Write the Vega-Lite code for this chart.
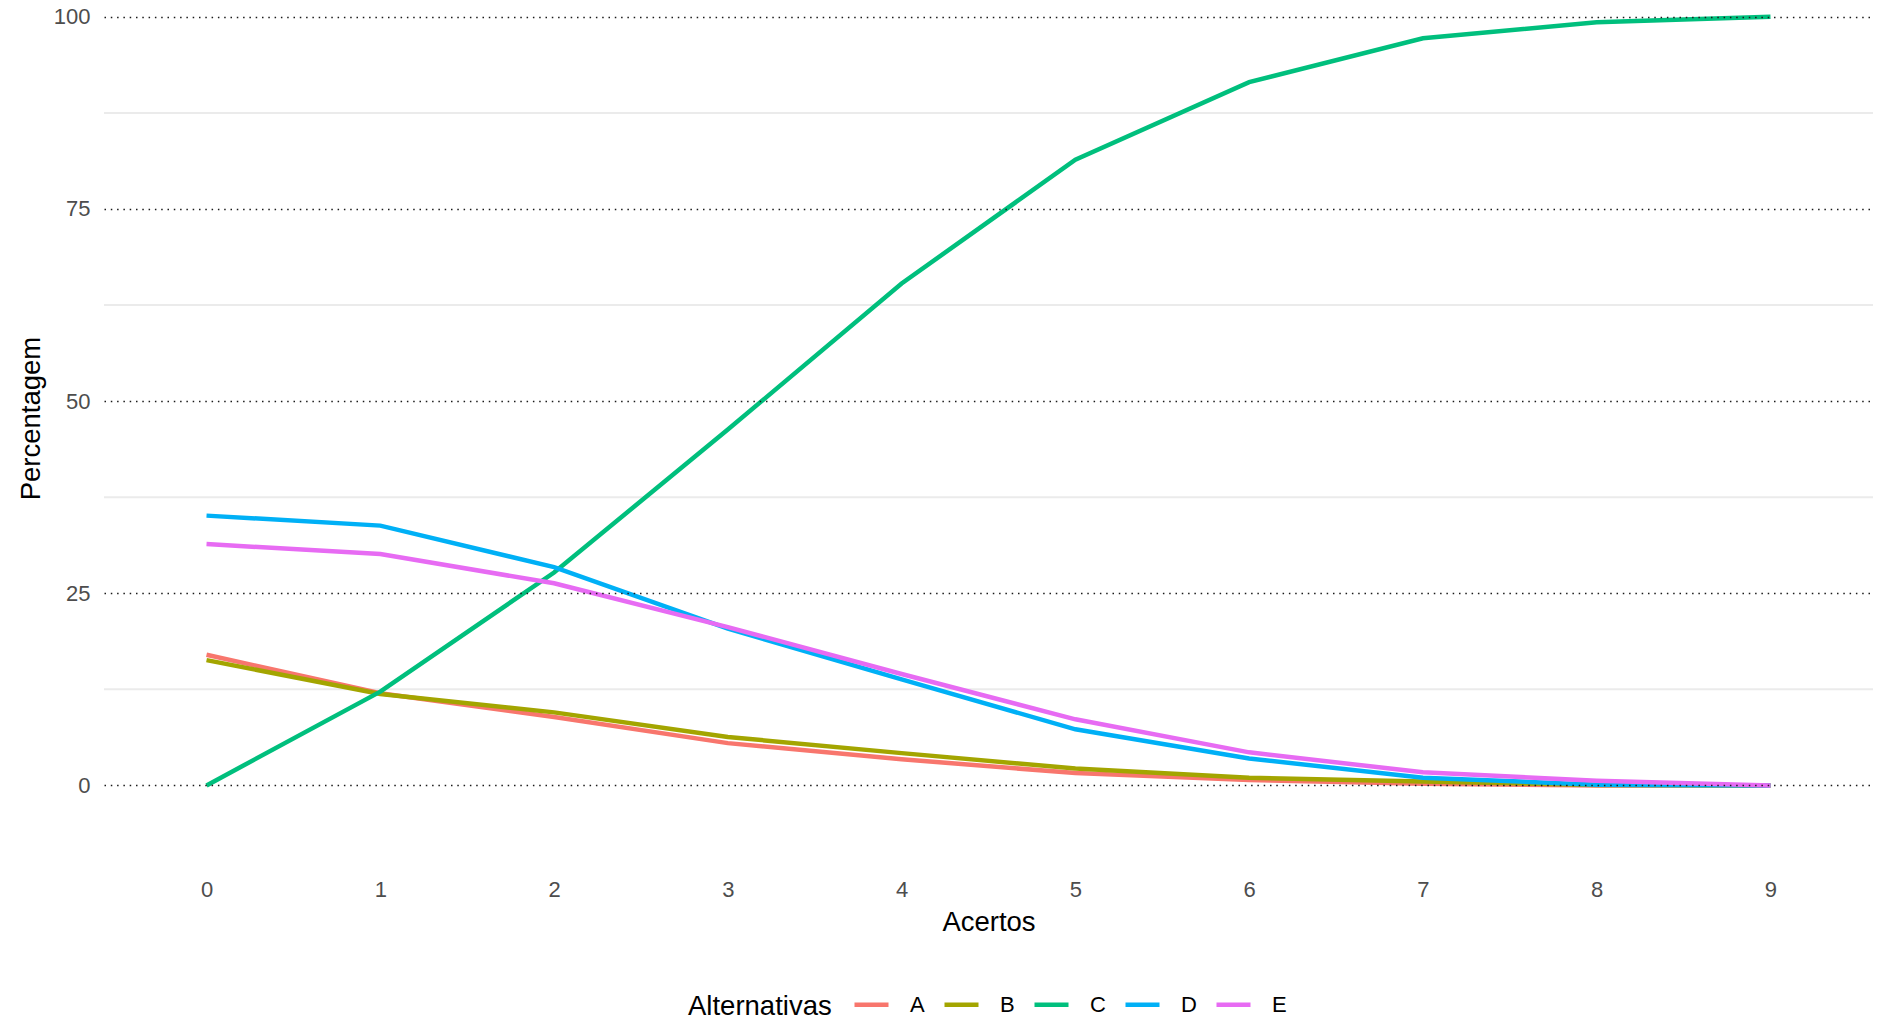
{
  "$schema": "https://vega.github.io/schema/vega-lite/v6.json",
  "width": 1769,
  "height": 836,
  "autosize": {"type": "none"},
  "padding": {"left": 104, "top": 0, "right": 10, "bottom": 186},
  "background": "white",
  "config": {"font": "Liberation Sans", "view": {"stroke": null}},
  "datasets": {
    "pct": [
      {"acertos": 0, "alt": "A", "pct": 17.0}, {"acertos": 1, "alt": "A", "pct": 12.0}, {"acertos": 2, "alt": "A", "pct": 8.9}, {"acertos": 3, "alt": "A", "pct": 5.5}, {"acertos": 4, "alt": "A", "pct": 3.4}, {"acertos": 5, "alt": "A", "pct": 1.6}, {"acertos": 6, "alt": "A", "pct": 0.7}, {"acertos": 7, "alt": "A", "pct": 0.2}, {"acertos": 8, "alt": "A", "pct": 0.0}, {"acertos": 9, "alt": "A", "pct": 0.0},
      {"acertos": 0, "alt": "B", "pct": 16.3}, {"acertos": 1, "alt": "B", "pct": 11.9}, {"acertos": 2, "alt": "B", "pct": 9.5}, {"acertos": 3, "alt": "B", "pct": 6.3}, {"acertos": 4, "alt": "B", "pct": 4.2}, {"acertos": 5, "alt": "B", "pct": 2.2}, {"acertos": 6, "alt": "B", "pct": 1.0}, {"acertos": 7, "alt": "B", "pct": 0.5}, {"acertos": 8, "alt": "B", "pct": 0.05}, {"acertos": 9, "alt": "B", "pct": 0.0},
      {"acertos": 0, "alt": "C", "pct": 0.0}, {"acertos": 1, "alt": "C", "pct": 12.2}, {"acertos": 2, "alt": "C", "pct": 27.7}, {"acertos": 3, "alt": "C", "pct": 46.3}, {"acertos": 4, "alt": "C", "pct": 65.3}, {"acertos": 5, "alt": "C", "pct": 81.4}, {"acertos": 6, "alt": "C", "pct": 91.5}, {"acertos": 7, "alt": "C", "pct": 97.2}, {"acertos": 8, "alt": "C", "pct": 99.3}, {"acertos": 9, "alt": "C", "pct": 100.0},
      {"acertos": 0, "alt": "D", "pct": 35.1}, {"acertos": 1, "alt": "D", "pct": 33.8}, {"acertos": 2, "alt": "D", "pct": 28.4}, {"acertos": 3, "alt": "D", "pct": 20.4}, {"acertos": 4, "alt": "D", "pct": 13.8}, {"acertos": 5, "alt": "D", "pct": 7.3}, {"acertos": 6, "alt": "D", "pct": 3.5}, {"acertos": 7, "alt": "D", "pct": 1.0}, {"acertos": 8, "alt": "D", "pct": 0.1}, {"acertos": 9, "alt": "D", "pct": 0.0},
      {"acertos": 0, "alt": "E", "pct": 31.4}, {"acertos": 1, "alt": "E", "pct": 30.1}, {"acertos": 2, "alt": "E", "pct": 26.3}, {"acertos": 3, "alt": "E", "pct": 20.6}, {"acertos": 4, "alt": "E", "pct": 14.5}, {"acertos": 5, "alt": "E", "pct": 8.6}, {"acertos": 6, "alt": "E", "pct": 4.3}, {"acertos": 7, "alt": "E", "pct": 1.7}, {"acertos": 8, "alt": "E", "pct": 0.6}, {"acertos": 9, "alt": "E", "pct": 0.0}
    ],
    "minor": [{"g": 12.5}, {"g": 37.5}, {"g": 62.5}, {"g": 87.5}]
  },
  "layer": [
    {
      "data": {"name": "minor"},
      "mark": {"type": "rule", "color": "#EBEBEB", "strokeWidth": 2},
      "encoding": {
        "y": {
          "field": "g", "type": "quantitative",
          "scale": {"domain": [-6.583, 102.186], "nice": false, "zero": false},
          "axis": {"values": [0, 25, 50, 75, 100], "grid": true, "gridColor": "#1a1a1a", "gridDash": [1.5, 4.8], "gridWidth": 1.5, "domain": false, "ticks": false, "tickSize": 0, "labelPadding": 14, "labelFontSize": 22, "labelColor": "#4D4D4D", "title": "Percentagem", "titleFontSize": 27.5, "titleFontWeight": "normal", "titleColor": "black", "titlePadding": 8, "zindex": 1}
        }
      }
    },
    {
      "data": {"name": "pct"},
      "mark": {"type": "line", "strokeWidth": 4.5},
      "encoding": {
        "x": {
          "field": "acertos", "type": "quantitative",
          "scale": {"domain": [-0.59, 9.59], "nice": false, "zero": false},
          "axis": {"values": [0, 1, 2, 3, 4, 5, 6, 7, 8, 9], "format": "d", "grid": false, "domain": false, "ticks": false, "tickSize": 0, "labelPadding": 43, "labelFontSize": 22, "labelColor": "#4D4D4D", "title": "Acertos", "titleFontSize": 27.5, "titleFontWeight": "normal", "titleColor": "black", "titlePadding": 8}
        },
        "y": {
          "field": "pct", "type": "quantitative",
          "scale": {"domain": [-6.583, 102.186], "nice": false, "zero": false},
          "axis": {"values": [0, 25, 50, 75, 100], "grid": true, "gridColor": "#1a1a1a", "gridDash": [1.5, 4.8], "gridWidth": 1.5, "domain": false, "ticks": false, "tickSize": 0, "labelPadding": 14, "labelFontSize": 22, "labelColor": "#4D4D4D", "title": "Percentagem", "titleFontSize": 27.5, "titleFontWeight": "normal", "titleColor": "black", "titlePadding": 8, "zindex": 1}
        },
        "color": {
          "field": "alt", "type": "nominal",
          "scale": {"domain": ["A", "B", "C", "D", "E"], "range": ["#F8766D", "#A3A500", "#00BF7D", "#00B0F6", "#E76BF3"]},
          "legend": {"title": "Alternativas", "orient": "none", "direction": "horizontal", "legendX": 584, "legendY": 985, "titleOrient": "left", "titleAnchor": "middle", "titleBaseline": "line-top", "titleLineHeight": 14.5, "titleFontSize": 27.5, "titleFontWeight": "normal", "titleColor": "black", "titlePadding": 20, "labelFontSize": 22, "labelColor": "black", "labelOffset": 19, "columnPadding": 10, "symbolType": "stroke", "symbolSize": 1156, "symbolStrokeWidth": 4.5, "padding": 0}
        }
      }
    }
  ]
}
